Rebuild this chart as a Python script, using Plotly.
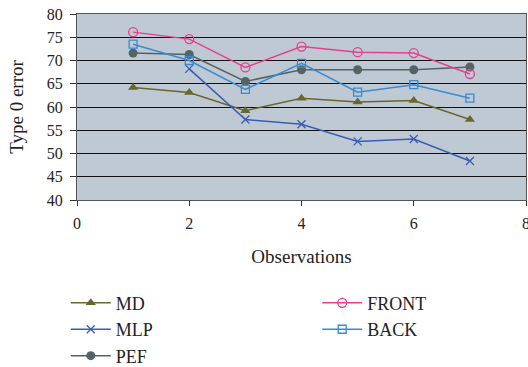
import plotly.graph_objects as go

observations = [1, 2, 3, 4, 5, 6, 7]
md = [64.2, 63.1, 59.2, 61.9, 61.1, 61.4, 57.3]
mlp = [None, 68.2, 57.3, 56.3, 52.6, 53.1, 48.4]
pef = [71.6, 71.3, 65.5, 68.0, 68.0, 68.0, 68.6]
front = [76.1, 74.6, 68.5, 73.0, 71.8, 71.6, 67.1]
back = [73.5, 70.0, 63.8, 69.4, 63.2, 64.8, 61.9]

font_family = "Liberation Serif, DejaVu Serif, serif"

# name, values, colour, marker symbol, marker size, legend id
series = [
    ("MD", md, "#68682a", "triangle-up", 9, "legend"),
    ("MLP", mlp, "#3a5db4", "x-thin-open", 8, "legend"),
    ("PEF", pef, "#546464", "circle", 9, "legend"),
    ("FRONT", front, "#e6408c", "circle-open", 9, "legend2"),
    ("BACK", back, "#3a8ad2", "square-open", 8, "legend2"),
]

fig = go.Figure()
for name, vals, color, symbol, size, leg in series:
    marker = dict(symbol=symbol, size=size, color=color)
    if symbol.endswith("open"):
        marker["line"] = dict(color=color, width=1.3)
    fig.add_trace(go.Scatter(
        x=observations, y=vals, name=name, mode="lines+markers",
        line=dict(color=color, width=1.5), marker=marker,
        connectgaps=False, legend=leg,
    ))

legend_style = dict(
    orientation="v", yanchor="top", y=-0.455, xanchor="left",
    font=dict(family=font_family, size=18, color="#222222"),
    bgcolor="rgba(0,0,0,0)", tracegroupgap=0, itemwidth=40,
)

fig.update_layout(
    width=528, height=367,
    margin=dict(l=77, r=2, t=14, b=167, autoexpand=False),
    paper_bgcolor="white",
    plot_bgcolor="#bfc9d3",
    font=dict(family=font_family, size=16, color="#222222"),
    showlegend=True,
    legend=dict(x=-0.025, **legend_style),
    legend2=dict(x=0.535, **legend_style),
)
fig.update_xaxes(
    range=[0, 8], dtick=2, tick0=0, showgrid=False, zeroline=False,
    showline=True, linecolor="#555555", linewidth=1.2, mirror=True,
    ticks="outside", ticklen=5, tickcolor="#333333",
    ticklabeloverflow="allow", ticklabelstandoff=4,
    title=dict(text="Observations", standoff=18),
)
fig.update_yaxes(
    range=[40, 80], dtick=5, tick0=40, showgrid=True, gridcolor="#111111",
    gridwidth=1, zeroline=False,
    showline=True, linecolor="#555555", linewidth=1.2, mirror=True,
    ticks="outside", ticklen=6, tickcolor="#333333", ticklabelstandoff=4,
    title=dict(text="Type 0 error", standoff=18),
)

fig.write_html("out.html")
